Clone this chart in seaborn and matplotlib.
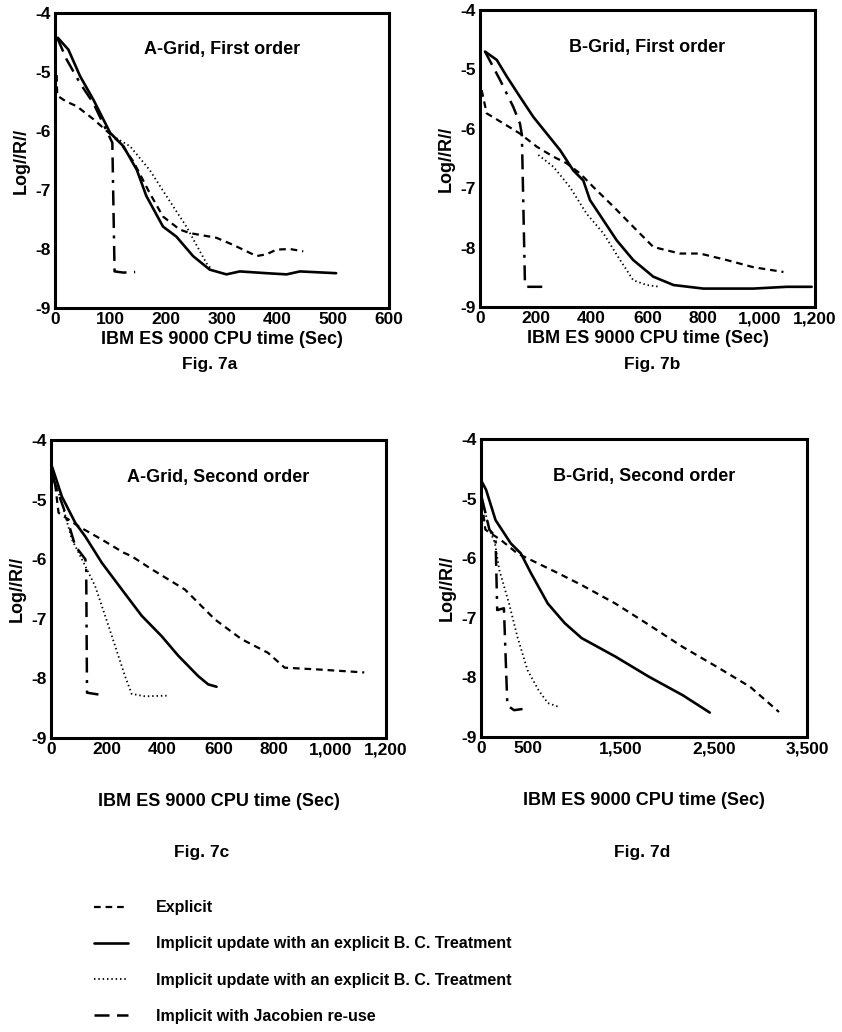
import seaborn as sns
import matplotlib.pyplot as plt
from matplotlib.lines import Line2D
from matplotlib.ticker import FuncFormatter

# ---- data (CPU time in sec, log residual) ----
# Fig 7a: A-Grid, first order
a_explicit_x = [3, 4, 20, 39, 69, 99, 117, 141, 170, 194, 224, 242, 290, 320, 362, 380, 398, 422, 446]
a_explicit_y = [-5.05, -5.4, -5.5, -5.58, -5.8, -6.05, -6.2, -6.52, -7.05, -7.45, -7.67, -7.73, -7.81,
                -7.93, -8.12, -8.09, -8.01, -8.0, -8.04]
a_solid_x = [5, 24, 45, 69, 99, 123, 147, 164, 194, 218, 248, 278, 308, 332, 380, 416, 440, 505]
a_solid_y = [-4.42, -4.62, -5.07, -5.47, -6.03, -6.26, -6.66, -7.1, -7.62, -7.79, -8.12, -8.35, -8.43,
             -8.38, -8.41, -8.43, -8.38, -8.41]
a_dotted_x = [110, 135, 170, 200, 236, 272, 280]
a_dotted_y = [-6.12, -6.26, -6.66, -7.1, -7.62, -8.24, -8.33]
a_jacob_x = [4, 21, 45, 69, 99, 103, 107, 123, 144]
a_jacob_y = [-4.42, -4.79, -5.19, -5.53, -6.12, -6.2, -8.38, -8.4, -8.39]

# Fig 7b: B-Grid, first order
b_explicit_x = [6, 24, 84, 143, 203, 263, 310, 358, 406, 478, 549, 621, 716, 788, 884, 979, 1087]
b_explicit_y = [-5.35, -5.74, -5.91, -6.08, -6.3, -6.47, -6.58, -6.75, -6.98, -7.31, -7.65, -7.99,
                -8.10, -8.10, -8.21, -8.33, -8.41]
b_solid_x = [18, 60, 96, 143, 191, 239, 287, 334, 370, 394, 442, 490, 549, 621, 693, 800, 979, 1099, 1188]
b_solid_y = [-4.70, -4.84, -5.12, -5.46, -5.8, -6.08, -6.36, -6.7, -6.87, -7.2, -7.54, -7.88, -8.21,
             -8.49, -8.63, -8.69, -8.69, -8.66, -8.66]
b_dotted_x = [209, 263, 322, 382, 442, 502, 549, 597, 645]
b_dotted_y = [-6.44, -6.64, -6.98, -7.43, -7.76, -8.21, -8.55, -8.63, -8.66]
b_jacob_x = [18, 72, 119, 143, 150, 161, 167, 233]
b_jacob_y = [-4.7, -5.18, -5.63, -5.91, -6.1, -8.6, -8.66, -8.66]

# Fig 7c: A-Grid, second order
c_explicit_x = [10, 27, 99, 182, 260, 289, 361, 480, 587, 682, 777, 837, 956, 1122]
c_explicit_y = [-4.56, -5.22, -5.45, -5.67, -5.89, -5.95, -6.17, -6.51, -7.01, -7.34, -7.57, -7.82,
                -7.85, -7.9]
c_solid_x = [4, 39, 87, 123, 182, 254, 325, 396, 456, 527, 563, 593]
c_solid_y = [-4.45, -4.95, -5.39, -5.62, -6.06, -6.51, -6.95, -7.29, -7.62, -7.96, -8.10, -8.14]
c_dotted_x = [4, 39, 75, 117, 158, 194, 230, 265, 289, 337, 414]
c_dotted_y = [-4.56, -5.06, -5.67, -6.06, -6.45, -6.95, -7.46, -7.96, -8.26, -8.30, -8.29]
c_jacob_x = [4, 51, 87, 123, 126, 129, 170]
c_jacob_y = [-4.6, -5.22, -5.78, -6.0, -6.1, -8.24, -8.27]

# Fig 7d: B-Grid, second order
d_explicit_x = [11, 47, 101, 210, 391, 826, 1080, 1442, 1804, 2167, 2529, 2891, 3199]
d_explicit_y = [-5.08, -5.52, -5.58, -5.69, -5.92, -6.25, -6.45, -6.76, -7.12, -7.49, -7.82, -8.16, -8.58]
d_solid_x = [10, 54, 156, 319, 428, 536, 717, 899, 1080, 1442, 1804, 2167, 2456]
d_solid_y = [-4.72, -4.85, -5.36, -5.75, -5.92, -6.25, -6.76, -7.09, -7.34, -7.65, -7.99, -8.30, -8.59]
d_dotted_x = [11, 90, 150, 197, 301, 391, 500, 616, 717, 844]
d_dotted_y = [-5.0, -5.52, -5.75, -6.2, -6.76, -7.32, -7.88, -8.21, -8.43, -8.50]
d_jacob_x = [11, 90, 156, 174, 246, 283, 355, 446]
d_jacob_y = [-5.0, -5.52, -5.64, -6.87, -6.84, -8.47, -8.55, -8.53]

titles = ["A-Grid, First order", "B-Grid, First order", "A-Grid, Second order", "B-Grid, Second order"]
fig_labels = ["Fig. 7a", "Fig. 7b", "Fig. 7c", "Fig. 7d"]
x_limits = [600, 1200, 1200, 3500]
x_steps = [100, 200, 200, 500]
d_labelled = [0, 500, 1500, 2500, 3500]
legend_labels = ["Explicit",
                 "Implicit update with an explicit B. C. Treatment",
                 "Implicit update with an explicit B. C. Treatment",
                 "Implicit with Jacobien re-use"]

sns.set_theme(style="white")
plt.rcParams['font.family'] = ['Liberation Sans', 'DejaVu Sans']
plt.rcParams['font.weight'] = 'bold'
plt.rcParams['axes.unicode_minus'] = False
for key in ['text.color', 'axes.labelcolor', 'xtick.color', 'ytick.color', 'axes.edgecolor']:
    plt.rcParams[key] = 'black'

styles = [
    dict(linestyle=(0, (3, 2.2)), linewidth=1.6),          # explicit
    dict(linestyle='-', linewidth=1.9),                     # implicit
    dict(linestyle=(0, (0.8, 1.6)), linewidth=1.3),         # implicit dotted
    dict(linestyle=(0, (6, 3, 6, 3, 1.2, 3)), linewidth=1.8),  # jacobian re-use
]

panels = [
    [(a_explicit_x, a_explicit_y), (a_solid_x, a_solid_y), (a_dotted_x, a_dotted_y), (a_jacob_x, a_jacob_y)],
    [(b_explicit_x, b_explicit_y), (b_solid_x, b_solid_y), (b_dotted_x, b_dotted_y), (b_jacob_x, b_jacob_y)],
    [(c_explicit_x, c_explicit_y), (c_solid_x, c_solid_y), (c_dotted_x, c_dotted_y), (c_jacob_x, c_jacob_y)],
    [(d_explicit_x, d_explicit_y), (d_solid_x, d_solid_y), (d_dotted_x, d_dotted_y), (d_jacob_x, d_jacob_y)],
]

W, H = 842, 1032
fig = plt.figure(figsize=(W / 100, H / 100), dpi=100)
# axes boxes in pixels: left, top, right, bottom
boxes = [(55, 13, 389, 308), (480, 10, 815, 307), (51, 440, 386, 738), (481, 439, 807, 737)]
fig_label_pos = [(210, 364), (652, 364), (202, 852), (642, 852)]

for i, (l, t, r, b) in enumerate(boxes):
    ax = fig.add_axes([l / W, 1 - b / H, (r - l) / W, (b - t) / H])
    for (xs, ys), st in zip(panels[i], styles):
        sns.lineplot(x=xs, y=ys, ax=ax, color='black', sort=False, estimator=None, **st)
    ax.set_xlim(0, x_limits[i])
    ax.set_ylim(-9, -4)
    ax.set_xticks(range(0, x_limits[i] + 1, x_steps[i]))
    ax.set_yticks([-9, -8, -7, -6, -5, -4])
    if i == 3:
        ax.xaxis.set_major_formatter(FuncFormatter(
            lambda v, p: f"{int(v):,}" if int(v) in d_labelled else ""))
    else:
        ax.xaxis.set_major_formatter(FuncFormatter(lambda v, p: f"{int(v):,}"))
    ax.tick_params(direction='in', length=4, width=1.2, colors='black', labelsize=12.5, pad=3)
    for s in ax.spines.values():
        s.set_linewidth(2.2)
        s.set_color('black')
    ax.set_ylabel("Log//R//", fontsize=13, fontweight='bold', labelpad=4)
    ax.set_xlabel("IBM ES 9000 CPU time (Sec)", fontsize=13, fontweight='bold',
                  labelpad=3 if i < 2 else 26)
    ax.text(0.5, 0.875, titles[i], transform=ax.transAxes, ha='center', va='center',
            fontsize=13, fontweight='bold')
    fx, fy = fig_label_pos[i]
    fig.text(fx / W, 1 - fy / H, fig_labels[i], ha='center', va='center', fontsize=12.5, fontweight='bold')

handles = [Line2D([], [], color='black', **st) for st in styles]
fig.legend(handles, legend_labels, loc='upper left', bbox_to_anchor=(88 / W, 1 - 894 / H),
           frameon=False, fontsize=11.5, handlelength=2.1, handletextpad=1.75, labelspacing=1.32,
           borderaxespad=0)

fig.savefig("out.png", dpi=100)
